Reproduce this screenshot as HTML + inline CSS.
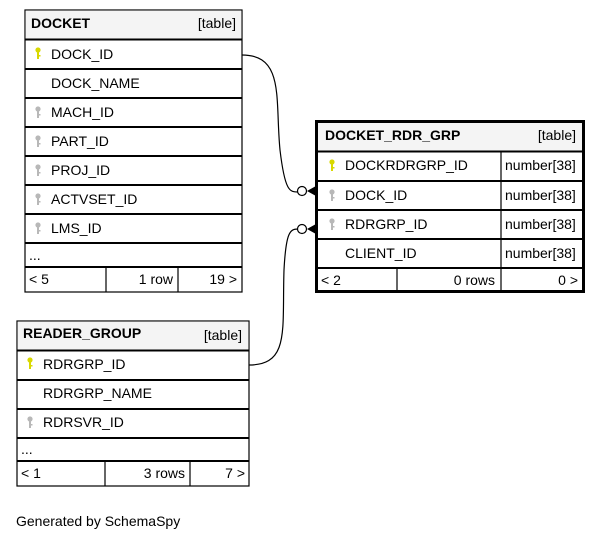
<!DOCTYPE html>
<html><head><style>body{margin:0;background:#fff}svg{display:block}text{font-family:"Liberation Sans",Arial,sans-serif;font-size:14px;fill:#000}</style></head><body>
<svg width="601" height="541" viewBox="0 0 601 541" xmlns="http://www.w3.org/2000/svg">
<defs>
<g id="kY"><circle cx="0" cy="0" r="2.6" fill="#d8d800"/><rect x="-1" y="0" width="2" height="9" fill="#d8d800"/><rect x="0" y="5" width="2.5" height="1.5" fill="#d8d800"/></g>
<g id="kG"><circle cx="0" cy="0" r="2.6" fill="#b8b8b8"/><rect x="-1" y="0" width="2" height="9" fill="#b8b8b8"/><rect x="0" y="5" width="2.5" height="1.5" fill="#b8b8b8"/></g>
</defs>
<!-- connectors -->
<path d="M242,55 C285,55 275,100 280,150 C285,192 290,192 298,192" fill="none" stroke="#000" stroke-width="1.2"/>
<path d="M249,365 C290,365 282,330 284,270 C286,232 290,229 298,229" fill="none" stroke="#000" stroke-width="1.2"/>
<circle cx="302" cy="191" r="4.5" fill="#fff" stroke="#000" stroke-width="1.2"/>
<circle cx="302" cy="229" r="4.5" fill="#fff" stroke="#000" stroke-width="1.2"/>
<path d="M307,191 L316,186 L316,196 Z" fill="#000"/>
<path d="M307,229 L316,224 L316,234 Z" fill="#000"/>
<!-- DOCKET -->
<g stroke="#000" stroke-width="1.2" fill="none">
<rect x="25" y="10" width="217" height="282" fill="#fff"/>
<rect x="25.6" y="10.6" width="215.8" height="28.4" fill="#f4f4f4" stroke="none"/>
<line x1="25" y1="39.5" x2="242" y2="39.5" stroke-width="2"/>
<line x1="25" y1="69" x2="242" y2="69" stroke-width="2"/>
<line x1="25" y1="98" x2="242" y2="98" stroke-width="2"/>
<line x1="25" y1="127" x2="242" y2="127" stroke-width="2"/>
<line x1="25" y1="156" x2="242" y2="156" stroke-width="2"/>
<line x1="25" y1="185" x2="242" y2="185" stroke-width="2"/>
<line x1="25" y1="214" x2="242" y2="214" stroke-width="2"/>
<line x1="25" y1="243" x2="242" y2="243" stroke-width="2"/>
<line x1="25" y1="267" x2="242" y2="267" stroke-width="2"/>
<line x1="106" y1="267" x2="106" y2="292"/>
<line x1="178" y1="267" x2="178" y2="292"/>
</g>
<text x="31" y="28" font-weight="bold">DOCKET</text>
<text x="236" y="28" text-anchor="end">[table]</text>
<use href="#kY" x="38" y="50"/><text x="51" y="59">DOCK_ID</text>
<text x="51" y="88">DOCK_NAME</text>
<use href="#kG" x="38" y="109"/><text x="51" y="117">MACH_ID</text>
<use href="#kG" x="38" y="138"/><text x="51" y="146">PART_ID</text>
<use href="#kG" x="38" y="167"/><text x="51" y="175">PROJ_ID</text>
<use href="#kG" x="38" y="196"/><text x="51" y="204">ACTVSET_ID</text>
<use href="#kG" x="38" y="225"/><text x="51" y="233">LMS_ID</text>
<text x="29" y="260">...</text>
<text x="29" y="284">&lt; 5</text>
<text x="173" y="284" text-anchor="end">1 row</text>
<text x="237" y="284" text-anchor="end">19 &gt;</text>
<!-- DOCKET_RDR_GRP -->
<g stroke="#000" stroke-width="1.2" fill="none">
<rect x="316.5" y="121.5" width="267" height="170" fill="#fff" stroke-width="3"/>
<rect x="318" y="123" width="264" height="28" fill="#f4f4f4" stroke="none"/>
<line x1="316" y1="151.5" x2="584" y2="151.5" stroke-width="2"/>
<line x1="316" y1="181" x2="584" y2="181" stroke-width="2"/>
<line x1="316" y1="210" x2="584" y2="210" stroke-width="2"/>
<line x1="316" y1="239" x2="584" y2="239" stroke-width="2"/>
<line x1="316" y1="268" x2="584" y2="268" stroke-width="2"/>
<line x1="501" y1="151" x2="501" y2="292"/>
<line x1="397" y1="268" x2="397" y2="292"/>
</g>
<text x="325" y="140" font-weight="bold">DOCKET_RDR_GRP</text>
<text x="576" y="140" text-anchor="end">[table]</text>
<use href="#kY" x="332" y="162"/><text x="345" y="170">DOCKRDRGRP_ID</text>
<use href="#kG" x="332" y="192"/><text x="345" y="200">DOCK_ID</text>
<use href="#kG" x="332" y="221"/><text x="345" y="229">RDRGRP_ID</text>
<text x="345" y="258">CLIENT_ID</text>
<text x="505" y="170">number[38]</text>
<text x="505" y="200">number[38]</text>
<text x="505" y="229">number[38]</text>
<text x="505" y="258">number[38]</text>
<text x="321" y="285">&lt; 2</text>
<text x="495" y="285" text-anchor="end">0 rows</text>
<text x="578" y="285" text-anchor="end">0 &gt;</text>
<!-- READER_GROUP -->
<g stroke="#000" stroke-width="1.2" fill="none">
<rect x="17" y="321" width="232" height="165" fill="#fff"/>
<rect x="17.6" y="321.6" width="230.8" height="28.4" fill="#f4f4f4" stroke="none"/>
<line x1="17" y1="350.5" x2="249" y2="350.5" stroke-width="2"/>
<line x1="17" y1="380" x2="249" y2="380" stroke-width="2"/>
<line x1="17" y1="409" x2="249" y2="409" stroke-width="2"/>
<line x1="17" y1="438" x2="249" y2="438" stroke-width="2"/>
<line x1="17" y1="461" x2="249" y2="461" stroke-width="2"/>
<line x1="105" y1="461" x2="105" y2="486"/>
<line x1="190" y1="461" x2="190" y2="486"/>
</g>
<text x="23" y="338" font-weight="bold">READER_GROUP</text>
<text x="242" y="340" text-anchor="end">[table]</text>
<use href="#kY" x="30" y="360"/><text x="43" y="369">RDRGRP_ID</text>
<text x="43" y="398">RDRGRP_NAME</text>
<use href="#kG" x="30" y="419"/><text x="43" y="427">RDRSVR_ID</text>
<text x="21" y="454">...</text>
<text x="21" y="478">&lt; 1</text>
<text x="185" y="478" text-anchor="end">3 rows</text>
<text x="245" y="478" text-anchor="end">7 &gt;</text>
<text x="16" y="526">Generated by SchemaSpy</text>
</svg>
</body></html>
